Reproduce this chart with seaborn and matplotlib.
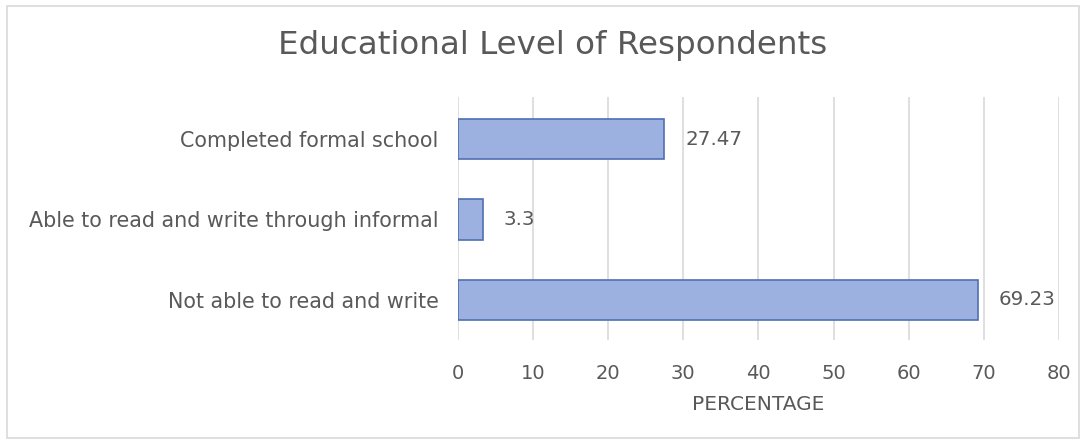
import matplotlib
matplotlib.use("Agg")
import matplotlib.pyplot as plt
from matplotlib.patches import Rectangle
import seaborn as sns
import pandas as pd

categories = [
    "Completed formal school",
    "Able to read and write through informal",
    "Not able to read and write",
]
percentages = [27.47, 3.3, 69.23]
x_ticks = [0, 10, 20, 30, 40, 50, 60, 70, 80]

title = "Educational Level of Respondents"
x_label = "PERCENTAGE"

sns.set_theme(style="white")
plt.rcParams["font.family"] = ["DejaVu Sans"]

text_color = "#595959"
grid_color = "#d9d9d9"
bar_color = "#9db1e1"
edge_color = "#4f6fb3"

df = pd.DataFrame({"category": categories, "percentage": percentages})

fig = plt.figure(figsize=(10.85, 4.43), dpi=100)
ax = fig.add_axes([0.422, 0.2325, 0.554, 0.548])

sns.barplot(data=df, x="percentage", y="category", order=categories,
            color=bar_color, edgecolor=edge_color, linewidth=1.2,
            width=0.5, saturation=1, ax=ax)

ax.set_xlim(0, 80)
ax.set_ylim(2.5, -0.52)
ax.set_xticks(x_ticks)
ax.set_xticklabels([str(t) for t in x_ticks])
ax.grid(axis="x", color=grid_color, linewidth=1.2)
ax.set_axisbelow(True)
for s in ax.spines.values():
    s.set_visible(False)

ax.tick_params(axis="x", length=0, pad=17, labelsize=14, labelcolor=text_color)
ax.tick_params(axis="y", length=0, pad=14, labelsize=14.9, labelcolor=text_color)
ax.set_ylabel("")
ax.set_xlabel(x_label, fontsize=14.5, color=text_color, labelpad=9)

for cont in ax.containers:
    ax.bar_label(cont, labels=[f"{v:g}" for v in percentages], padding=15,
                 fontsize=14.3, color=text_color)

fig.text(0.509, 0.898, title, ha="center", va="center", fontsize=23.4,
         color=text_color)

fig.patches.append(Rectangle((0.0065, 0.012), 0.988, 0.975,
                             transform=fig.transFigure, fill=False,
                             edgecolor=grid_color, linewidth=1.2))

fig.savefig("out.png", dpi=100)
